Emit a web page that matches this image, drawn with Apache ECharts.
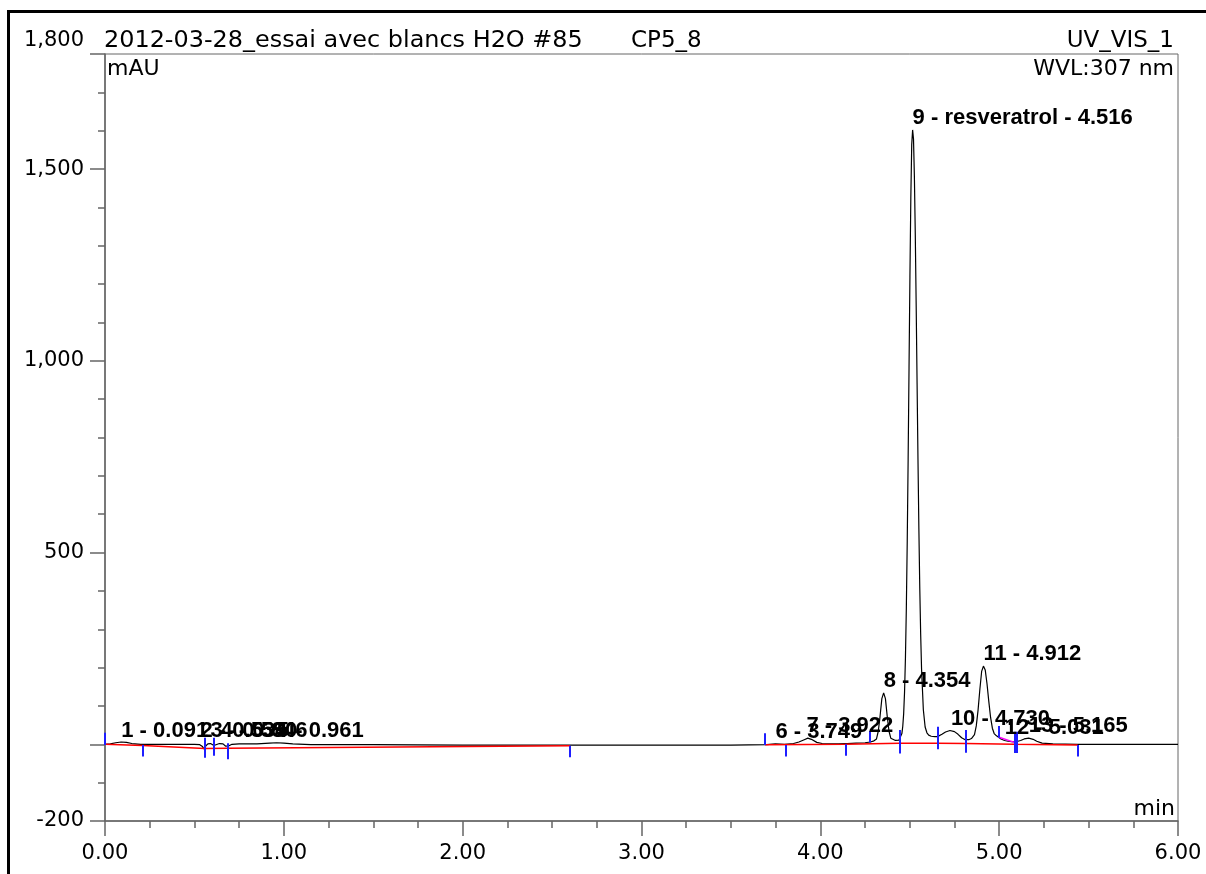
<!DOCTYPE html>
<html>
<head>
<meta charset="utf-8">
<script src="https://cdn.jsdelivr.net/npm/echarts@6/dist/echarts.min.js"></script>
<style>
html,body{margin:0;padding:0;background:#fff;overflow:hidden;}
#chart{position:absolute;left:0;top:0;width:1206px;height:874px;}
#frame{position:absolute;left:7px;top:10px;width:1400px;height:1000px;border-left:3px solid #000;border-top:3px solid #000;pointer-events:none;z-index:10;}
</style>
</head>
<body>
<div id="chart"></div>
<div id="frame"></div>
<script>
// ---- data ----
const chromTime = [0.00,0.03,0.06,0.09,0.12,0.15,0.20,0.30,0.40,0.50,0.53,0.545,0.553,0.562,0.575,0.59,0.60,0.609,0.618,0.64,0.66,0.675,0.684,0.693,0.71,0.75,0.85,0.92,0.96,1.00,1.05,1.15,1.50,2.00,2.50,3.00,3.50,3.70,3.749,3.80,3.85,3.88,3.91,3.93,3.95,3.98,4.01,4.05,4.10,4.15,4.20,4.25,4.28,4.30,4.314,4.324,4.334,4.344,4.354,4.364,4.374,4.384,4.394,4.404,4.42,4.44,4.45,4.456,4.461,4.466,4.471,4.476,4.481,4.486,4.491,4.496,4.501,4.506,4.511,4.516,4.521,4.526,4.531,4.536,4.541,4.546,4.551,4.556,4.561,4.566,4.576,4.586,4.596,4.606,4.62,4.64,4.655,4.68,4.70,4.725,4.75,4.77,4.79,4.81,4.83,4.845,4.855,4.862,4.872,4.882,4.892,4.902,4.912,4.922,4.932,4.942,4.952,4.962,4.972,4.985,4.996,5.01,5.03,5.05,5.07,5.09,5.10,5.12,5.14,5.165,5.19,5.21,5.24,5.30,5.44,6.00];
const chromSignal = [0,1,4,6,5,2,0,0,0,0,-1,-6,-12,-5,1,2,0,-3,0,2,1,-5,-10,-4,0,1,1,3,4,3,1,-1,-1,-2,-2,-2,-2,-1,1,0,2,6,12,16,13,5,2,1,1,2,3,4,6,9,14,34,73,119,134,119,73,34,16,12,10,11,15,28,47,80,137,227,357,530,743,982,1219,1424,1563,1602,1578,1479,1328,1142,941,743,563,409,288,197,90,45,30,24,21,20,20,26,32,36,33,26,17,12,12,15,19,25,48,89,143,190,204,194,158,112,70,42,28,22,19,14,10,8,7,6,7,10,14,16,13,8,3,1,0,0];

const peakLabels = ['1 - 0.091','2 - 0.534','3 - 0.590','4 - 0.646','5 - 0.961','6 - 3.749','7 - 3.922','8 - 4.354','9 - resveratrol - 4.516','10 - 4.730','11 - 4.912','12 - 5.031','13 - 5.165'];
const peakTimes  = [0.091,0.534,0.590,0.646,0.961,3.749,3.922,4.354,4.516,4.730,4.912,5.031,5.165];
const peakHeights = [4,3,3,3,4,1,16,134,1602,36,204,12,16];

const baselineTime  = [0, 0.211, 0.5575, 0.684, 2.60, null, 3.691, 4.14, 4.442, 4.654, 4.813, 5.085, 5.439];
const baselineValue = [0, -3, -11, -10, -4, null, -1, 0, 3, 3, 2, 0, -2];
const dropTime  = [4.996, 5.085];
const dropValue = [19, 5];

const markerTimes  = [0.0, 0.211, 0.5575, 0.6095, 0.684, 2.60, 3.691, 3.804, 4.140, 4.279, 4.442, 4.654, 4.813, 4.996, 5.085, 5.098, 5.439];
const markerTop    = [30, -2, 17, 17, 3, -4, 29, -2, 0, 35, 37, 46, 37, 48, 33, 33, -2];
const markerBottom = [-2, -32, -35, -30, -39, -34, -2, -32, -30, 5, -24, -13, -22, 17, -23, -23, -32];

const xTickValues = [0, 1, 2, 3, 4, 5, 6];
const yTickValues = [-200, 0, 500, 1000, 1500, 1800];
const yLabelValues = [-200, 500, 1000, 1500, 1800];

const titleText = '2012-03-28_essai avec blancs H2O #85';
const sampleText = 'CP5_8';
const channelText = 'UV_VIS_1';
const wavelengthText = 'WVL:307 nm';
const yUnit = 'mAU';
const xUnit = 'min';

// ---- chart ----
const axisColor = '#666';
const sans = 'DejaVu Sans';
const chart = echarts.init(document.getElementById('chart'), null, {renderer: 'canvas'});

const lineData = chromTime.map((t, i) => [t, chromSignal[i]]);
const baseData = baselineTime.map((t, i) => t === null ? [3.0, '-'] : [t, baselineValue[i]]);
const dropData = dropTime.map((t, i) => [t, dropValue[i]]);
const markerData = markerTimes.map((t, i) => ({coords: [[t, markerTop[i]], [t, markerBottom[i]]]}));
const labelData = peakTimes.map((t, i) => [t, peakHeights[i]]);

const fmtY = v => v.toLocaleString('en-US');

chart.setOption({
  animation: false,
  grid: {left: 105, right: 28, top: 54, bottom: 53, show: true, borderColor: axisColor, borderWidth: 1, backgroundColor: 'transparent'},
  xAxis: [{
    type: 'value', min: 0, max: 6, interval: 1, position: 'bottom',
    axisLine: {show: true, onZero: false, lineStyle: {color: axisColor, width: 1.5}},
    axisTick: {show: true, length: 15, customValues: xTickValues, lineStyle: {color: axisColor, width: 1.5}},
    minorTick: {show: true, splitNumber: 4, length: 7, lineStyle: {color: axisColor, width: 1.5}},
    axisLabel: {show: true, customValues: xTickValues, formatter: v => v.toFixed(2), margin: 22, color: '#000', fontSize: 21, fontFamily: sans},
    splitLine: {show: false}, minorSplitLine: {show: false}
  }],
  yAxis: [{
    type: 'value', min: -200, max: 1800, position: 'left',
    axisLine: {show: true, onZero: false, lineStyle: {color: axisColor, width: 1.5}},
    axisTick: {show: true, length: 15, customValues: yTickValues, lineStyle: {color: axisColor, width: 1.5}},
    axisLabel: {show: true, customValues: yLabelValues, margin: 21, color: '#000', fontSize: 21, fontFamily: sans,
      formatter: v => v === 1800 ? '{t|' + fmtY(v) + '}' : fmtY(v),
      rich: {t: {fontSize: 21, fontFamily: sans, color: '#000', padding: [0, 0, 26, 0]}}},
    splitLine: {show: false}
  }, {
    type: 'value', min: -200, max: 1800, interval: 100, position: 'left',
    axisLine: {show: false, onZero: false},
    axisTick: {show: true, length: 7, lineStyle: {color: axisColor, width: 1.5}},
    axisLabel: {show: false},
    splitLine: {show: false}
  }],
  series: [{
    type: 'line', name: 'signal', data: lineData, showSymbol: false, symbol: 'none',
    lineStyle: {color: '#000', width: 1.2}, z: 3
  }, {
    type: 'line', name: 'baseline', data: baseData, showSymbol: false, symbol: 'none', connectNulls: false,
    lineStyle: {color: '#ff0000', width: 1.5}, z: 4
  }, {
    type: 'line', name: 'drop', data: dropData, showSymbol: false, symbol: 'none',
    lineStyle: {color: '#ff00ff', width: 1.5}, z: 4
  }, {
    type: 'lines', coordinateSystem: 'cartesian2d', data: markerData, polyline: false,
    lineStyle: {color: '#1e1eff', width: 2, opacity: 1}, z: 5
  }, {
    type: 'scatter', data: labelData, symbolSize: 0, z: 6,
    itemStyle: {opacity: 1},
    label: {show: true, position: [0, -12], align: 'left', verticalAlign: 'middle', opacity: 1,
      formatter: p => peakLabels[p.dataIndex], color: '#000000', fontSize: 22, fontWeight: 'bold', fontFamily: 'Liberation Sans'}
  }],
  graphic: [
    {type: 'text', x: 104, y: 41, scaleX: 1.04, style: {text: titleText, font: '23px "DejaVu Sans"', fill: '#000', align: 'left', verticalAlign: 'middle'}},
    {type: 'text', x: 631, y: 41, style: {text: sampleText, font: '23px "DejaVu Sans"', fill: '#000', align: 'left', verticalAlign: 'middle'}},
    {type: 'text', x: 1174, y: 41, style: {text: channelText, font: '23px "DejaVu Sans"', fill: '#000', align: 'right', verticalAlign: 'middle'}},
    {type: 'text', x: 107, y: 69, style: {text: yUnit, font: '22px "DejaVu Sans"', fill: '#000', align: 'left', verticalAlign: 'middle'}},
    {type: 'text', x: 1174, y: 69, style: {text: wavelengthText, font: '22px "DejaVu Sans"', fill: '#000', align: 'right', verticalAlign: 'middle'}},
    {type: 'text', x: 1175, y: 809, style: {text: xUnit, font: '22px "DejaVu Sans"', fill: '#000', align: 'right', verticalAlign: 'middle'}}
  ]
});
</script>
</body>
</html>
